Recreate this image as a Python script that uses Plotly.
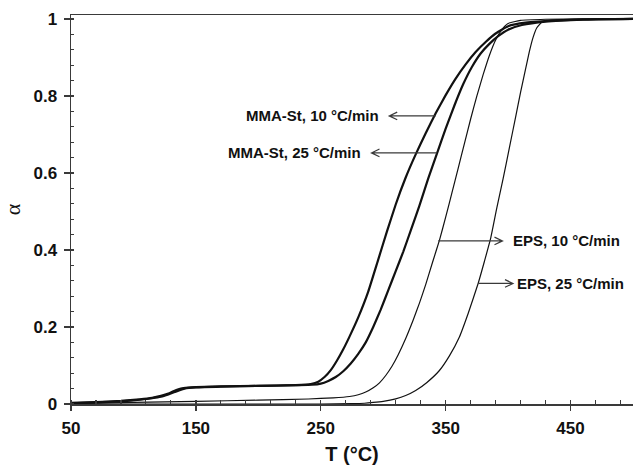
import plotly.graph_objects as go

# ---------------- data ----------------
mma10_T = [50, 70, 90, 105, 115, 122, 128, 132, 136, 140, 150, 170, 200, 230, 242, 248, 253, 258, 263, 268,
           273, 280, 288, 296, 303, 310, 318, 326, 334, 342, 350, 358, 366, 374, 382, 390, 400, 414, 440, 470, 500]
mma10_a = [0.003, 0.005, 0.008, 0.012, 0.016, 0.021, 0.027, 0.033, 0.038, 0.041, 0.044, 0.046, 0.047, 0.049,
           0.052, 0.058, 0.07, 0.088, 0.113, 0.142, 0.175, 0.225, 0.292, 0.375, 0.448, 0.518, 0.588, 0.648,
           0.703, 0.755, 0.802, 0.845, 0.882, 0.914, 0.94, 0.962, 0.981, 0.99, 0.996, 0.999, 1.0]

mma25_T = [50, 70, 90, 105, 115, 122, 128, 133, 137, 141, 150, 170, 200, 230, 243, 250, 256, 262, 268, 274,
           280, 286, 292, 298, 304, 310, 316, 322, 329, 336, 343, 350, 357, 364, 371, 378, 385, 392, 400, 411,
           430, 460, 500]
mma25_a = [0.002, 0.004, 0.007, 0.011, 0.015, 0.019, 0.025, 0.031, 0.036, 0.04, 0.043, 0.045, 0.047, 0.049,
           0.05, 0.053, 0.06, 0.07, 0.085, 0.105, 0.13, 0.16, 0.2, 0.245, 0.295, 0.345, 0.395, 0.45, 0.515,
           0.585, 0.65, 0.715, 0.775, 0.83, 0.875, 0.91, 0.935, 0.955, 0.972, 0.984, 0.993, 0.998, 1.0]

eps10_T = [50, 100, 150, 200, 240, 260, 273, 280, 286, 292, 297, 302, 307, 312, 318, 324, 329, 334, 339.5,
           345, 350, 355, 360, 365, 370, 375, 380, 385, 390, 395, 400, 410, 430, 460, 500]
eps10_a = [0.001, 0.004, 0.007, 0.01, 0.013, 0.016, 0.0195, 0.024, 0.031, 0.042, 0.055, 0.074, 0.098, 0.128,
           0.17, 0.218, 0.262, 0.31, 0.368, 0.425, 0.485, 0.548, 0.612, 0.676, 0.74, 0.8, 0.855, 0.905, 0.945,
           0.972, 0.988, 0.996, 0.999, 1.0, 1.0]

eps25_T = [50, 150, 250, 275, 285, 292, 300, 310, 318, 326, 335, 345, 353, 361, 368, 376, 381, 386, 391, 396,
           401, 406, 410, 414, 417, 420, 423, 427, 435, 450, 500]
eps25_a = [0.0, 0.0, 0.0, 0.001, 0.002, 0.004, 0.007, 0.0135, 0.022, 0.035, 0.056, 0.087, 0.125, 0.174, 0.235,
           0.313, 0.37, 0.43, 0.51, 0.585, 0.665, 0.745, 0.81, 0.87, 0.915, 0.952, 0.977, 0.991, 0.997, 0.999, 1.0]

# annotations: label text, alpha level, arrow tail (on curve), arrow tip, text anchor T, side
labels = ["MMA-St, 10 °C/min", "MMA-St, 25 °C/min", "EPS, 10 °C/min", "EPS, 25 °C/min"]
label_a = [0.748, 0.652, 0.4235, 0.313]
arrow_tail_T = [342.0, 343.0, 344.0, 376.0]
arrow_tip_T = [304.8, 290.6, 395.5, 403.9]
text_T = [298.0, 283.5, 402.0, 405.5]
text_side = ["right", "right", "left", "left"]

x_ticks = [50, 150, 250, 350, 450]
y_ticks = [0, 0.2, 0.4, 0.6, 0.8, 1]
y_tick_text = ["0", "0.2", "0.4", "0.6", "0.8", "1"]

# ---------------- figure ----------------
W, H = 633, 465
ML, MR, MT, MB = 71, 0, 15, 61
XR = [50, 500]
YR = [0, 1.01]
kx = (W - ML - MR) / (XR[1] - XR[0])   # px per degree
ky = (H - MT - MB) / (YR[1] - YR[0])   # px per alpha

INK = "#111111"
AX = "#3a3a3a"
fig = go.Figure()

for T, a, w in [(mma10_T, mma10_a, 2.2), (mma25_T, mma25_a, 2.2),
                (eps10_T, eps10_a, 1.2), (eps25_T, eps25_a, 1.2)]:
    fig.add_trace(go.Scatter(x=T, y=a, mode="lines",
                             line=dict(color=INK, width=w, shape="spline", smoothing=0.4),
                             showlegend=False, hoverinfo="skip"))

# invisible trace for overlay axes (inside halves of crossing major ticks)
fig.add_trace(go.Scatter(x=[XR[0]], y=[YR[0]], xaxis="x2", yaxis="y2", mode="markers",
                         marker=dict(opacity=0), showlegend=False, hoverinfo="skip"))

shapes = []
lab_font = dict(family="Liberation Sans, Arial", size=15, color=INK, weight="bold")
head_len = 8 / kx
head_half = 3.8 / ky
for lab, a, t0, t1, tt, side in zip(labels, label_a, arrow_tail_T, arrow_tip_T, text_T, text_side):
    d = 1 if t1 > t0 else -1
    path = (f"M {t0},{a} L {t1},{a} "
            f"M {t1 - d * head_len},{a + head_half} L {t1},{a} L {t1 - d * head_len},{a - head_half}")
    shapes.append(dict(type="path", path=path, xref="x", yref="y",
                       line=dict(color=AX, width=1.2)))
    fig.add_annotation(x=tt, y=a, xref="x", yref="y", text=lab, showarrow=False,
                       xanchor=side, yanchor="middle", font=lab_font)

tick_font = dict(family="Liberation Sans, Arial", size=17, color=INK, weight="bold")
fig.update_layout(
    width=W, height=H,
    margin=dict(l=ML, r=MR, t=MT, b=MB, autoexpand=False),
    paper_bgcolor="white", plot_bgcolor="white",
    shapes=shapes,
    xaxis=dict(range=XR, tickvals=x_ticks, ticktext=[str(v) for v in x_ticks],
               ticks="outside", ticklen=5, tickwidth=1.3, tickcolor=AX,
               minor=dict(dtick=20, tick0=50, ticks="inside", ticklen=4, tickwidth=1.1, tickcolor=AX),
               showline=True, linecolor=AX, linewidth=1.5, mirror=True,
               showgrid=False, zeroline=False, tickfont=tick_font,
               title=dict(text="T (°C)", font=dict(family="Liberation Sans, Arial", size=20,
                                                   color=INK, weight="bold"), standoff=11),
               automargin=False, ticklabelstandoff=3),
    yaxis=dict(range=YR, tickvals=y_ticks, ticktext=y_tick_text,
               ticks="outside", ticklen=6, tickwidth=1.3, tickcolor=AX,
               minor=dict(dtick=0.04, tick0=0, ticks="inside", ticklen=3, tickwidth=1.1, tickcolor=AX),
               showline=True, linecolor=AX, linewidth=1.5, mirror=False,
               showgrid=False, zeroline=False, tickfont=tick_font,
               title=dict(text="α", font=dict(family="Liberation Serif, Times New Roman", size=22,
                                             color=INK), standoff=12),
               automargin=False, ticklabelstandoff=3),
    xaxis2=dict(range=XR, overlaying="x", side="bottom", tickvals=x_ticks, showticklabels=False,
                ticks="inside", ticklen=4, tickwidth=1.3, tickcolor=AX, showline=False,
                showgrid=False, zeroline=False, automargin=False),
    yaxis2=dict(range=YR, overlaying="y", side="left", tickvals=y_ticks, showticklabels=False,
                ticks="inside", ticklen=3, tickwidth=1.3, tickcolor=AX, showline=False,
                showgrid=False, zeroline=False, automargin=False),
)

fig.write_html("out.html", config={"displayModeBar": False, "staticPlot": True})

# remove the browser's default page margin so the figure sits at the window's corner
with open("out.html", "r", encoding="utf-8") as f:
    html = f.read()
html = html.replace("<head>", "<head><style>html,body{margin:0;padding:0;overflow:hidden;}</style>", 1)
with open("out.html", "w", encoding="utf-8") as f:
    f.write(html)
